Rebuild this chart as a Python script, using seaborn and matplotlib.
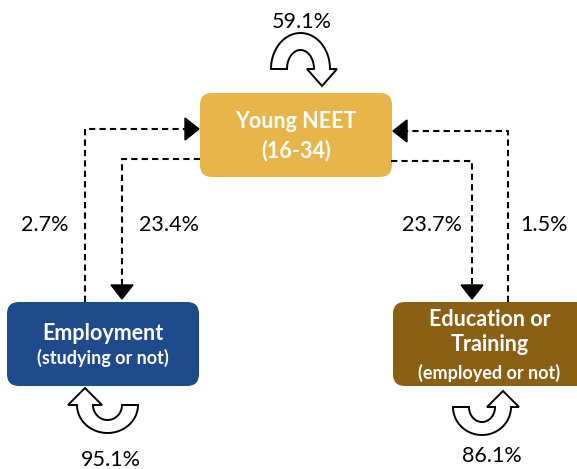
"""
Young NEET transitions - flow diagram
"""

import numpy as np
import matplotlib
matplotlib.use("Agg")
import matplotlib.pyplot as plt
import seaborn as sns
from matplotlib.patches import FancyBboxPatch, Polygon

# ── Data ──────────────────────────────────────────────────────
node_titles    = ["Young NEET", "Employment", "Education or\nTraining"]
node_subtitles = ["(16-34)", "(studying or not)", "(employed or not)"]
node_colors    = ["#E8B54B", "#1F4A8B", "#8A6014"]

stay_rates = [59.1, 95.1, 86.1]          # staying in the same state
to_neet    = [2.7, 1.5]                  # employment -> NEET, education -> NEET
from_neet  = [23.4, 23.7]                # NEET -> employment, NEET -> education

# ── Layout (pixel coords, y grows downwards) ─────────────────
W, H = 577, 469
boxes = [(200, 93, 192, 84), (7, 302, 192, 84), (393, 302, 200, 84)]

sns.set_theme(style="white")
plt.rcParams["font.family"] = ["Lato", "DejaVu Sans"]

fig = plt.figure(figsize=(W / 100, H / 100), dpi=100)
ax = fig.add_axes([0, 0, 1, 1])
ax.set_xlim(0, W)
ax.set_ylim(H, 0)
ax.axis("off")


def draw_box(ax, rect, color):
    x, y, w, h = rect
    ax.add_patch(FancyBboxPatch((x, y), w, h,
                                boxstyle="round,pad=0,rounding_size=12",
                                fc=color, ec="none", zorder=2))


def dashed_path(ax, pts, head_dir):
    xs, ys = zip(*pts)
    ax.plot(xs, ys, color="black", lw=1.5, ls=(0, (3, 2)), zorder=3,
            solid_capstyle="butt", dash_capstyle="butt")
    # filled triangular head at the last point
    tx, ty = pts[-1]
    hw, hl = 11, 14
    if head_dir == "right":
        tri = [(tx, ty), (tx - hl, ty - hw), (tx - hl, ty + hw)]
    elif head_dir == "left":
        tri = [(tx, ty), (tx + hl, ty - hw), (tx + hl, ty + hw)]
    else:  # down
        tri = [(tx, ty), (tx - hw, ty - hl), (tx + hw, ty - hl)]
    ax.add_patch(Polygon(tri, closed=True, fc="black", ec="black", zorder=4))


def uturn(ax, cx, cy, Rx, Ry, rx, ry, over, head_side, hw, hl):
    """Block U-turn arrow: half-ring with an arrow head on one end."""
    sgn = -1 if over else 1          # over: arc above cy, else below
    t = np.linspace(np.pi, 0, 60)
    outer = [(cx + Rx * np.cos(a), cy + sgn * Ry * np.sin(a)) for a in t]
    inner = [(cx + rx * np.cos(a), cy + sgn * ry * np.sin(a)) for a in t[::-1]]
    mid_r = cx + (Rx + rx) / 2
    mid_l = cx - (Rx + rx) / 2
    tip_dy = -sgn * hl
    if head_side == "right":
        head = [(cx + Rx + hw - (Rx - rx) / 2, cy), (mid_r, cy + tip_dy),
                (cx + rx - hw + (Rx - rx) / 2, cy)]
        pts = outer + head + inner
    else:
        head = [(cx - rx + hw - (Rx - rx) / 2, cy), (mid_l, cy + tip_dy),
                (cx - Rx - hw + (Rx - rx) / 2, cy)]
        pts = outer + inner + head
    ax.add_patch(Polygon(pts, closed=True, fc="white", ec="black",
                         lw=1.4, zorder=3, joinstyle="miter"))


# ── Boxes with text ───────────────────────────────────────────
for rect, color in zip(boxes, node_colors):
    draw_box(ax, rect, color)

ax.text(296, 122, node_titles[0], color="white", fontsize=15.5, fontweight="bold",
        ha="center", va="center")
ax.text(296, 151, node_subtitles[0], color="white", fontsize=15.5, fontweight="bold",
        ha="center", va="center")
ax.text(103, 333, node_titles[1], color="white", fontsize=15.5, fontweight="bold",
        ha="center", va="center")
ax.text(103, 358, node_subtitles[1], color="white", fontsize=13, fontweight="bold",
        ha="center", va="center")
ax.text(490, 332, node_titles[2], color="white", fontsize=15.5, fontweight="bold",
        ha="center", va="center", linespacing=1.2)
ax.text(489, 373, node_subtitles[2], color="white", fontsize=13, fontweight="bold",
        ha="center", va="center")

# ── Dashed transition arrows ─────────────────────────────────
dashed_path(ax, [(85, 302), (85, 129), (199, 129)], "right")
dashed_path(ax, [(200, 159), (122, 159), (122, 299)], "down")
dashed_path(ax, [(508, 302), (508, 131), (393, 131)], "left")
dashed_path(ax, [(391, 161), (472, 161), (472, 299)], "down")

pct_kw = dict(fontsize=15.5, ha="center", va="center", color="black")
ax.text(45, 225, f"{to_neet[0]}%", **pct_kw)
ax.text(169, 225, f"{from_neet[0]}%", **pct_kw)
ax.text(432, 225, f"{from_neet[1]}%", **pct_kw)
ax.text(544, 225, f"{to_neet[1]}%", **pct_kw)

# ── Staying-in-state U-turns ─────────────────────────────────
uturn(ax, 300.5, 69, 29.5, 36, 13.5, 19, over=True, head_side="right", hw=15, hl=17)
uturn(ax, 107.5, 405, 30.5, 28, 14.5, 15, over=False, head_side="left", hw=17, hl=17)
uturn(ax, 482, 407, 29, 28, 13, 15, over=False, head_side="right", hw=16, hl=16)

ax.text(302, 22, f"{stay_rates[0]}%", **pct_kw)
ax.text(111, 460, f"{stay_rates[1]}%", **pct_kw)
ax.text(492, 456, f"{stay_rates[2]}%", **pct_kw)

fig.savefig("out.png", dpi=100)
